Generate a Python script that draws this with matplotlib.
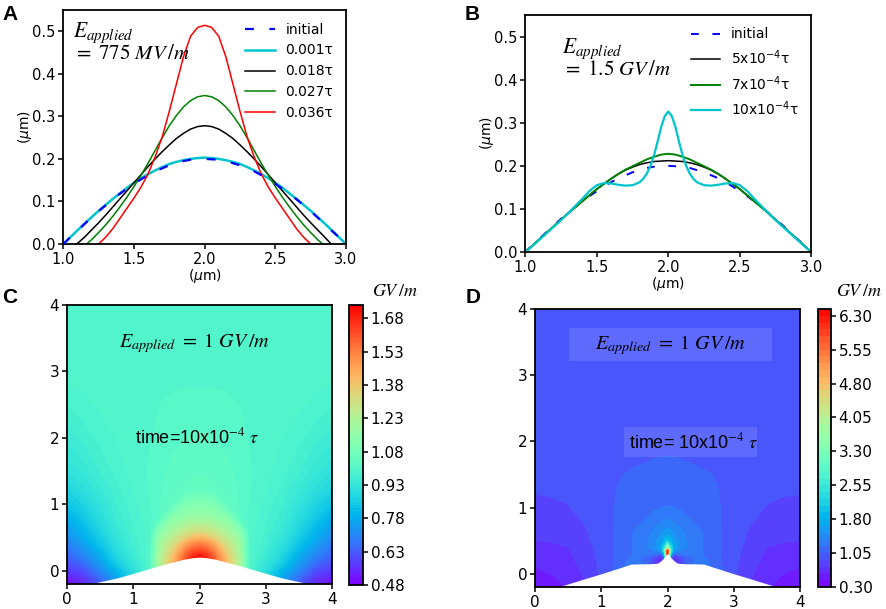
import numpy as np
import matplotlib
matplotlib.use('Agg')
import matplotlib.pyplot as plt
from matplotlib.patches import Rectangle

plt.rcParams['font.family'] = 'DejaVu Sans'
plt.rcParams['axes.linewidth'] = 1.3
plt.rcParams['xtick.major.width'] = 1.1
plt.rcParams['ytick.major.width'] = 1.1

# ---------- panel A / B profiles (um) ----------
x_grid = [1.0, 1.05, 1.1, 1.15, 1.2, 1.25, 1.3, 1.35, 1.4, 1.45, 1.5, 1.55, 1.6, 1.65, 1.7,
          1.75, 1.8, 1.85, 1.9, 1.95, 2.0, 2.05, 2.1, 2.15, 2.2, 2.25, 2.3, 2.35, 2.4, 2.45,
          2.5, 2.55, 2.6, 2.65, 2.7, 2.75, 2.8, 2.85, 2.9, 2.95, 3.0]
initial = [0.0, 0.016, 0.031, 0.047, 0.062, 0.077, 0.091, 0.105, 0.118, 0.13, 0.141, 0.152,
           0.162, 0.171, 0.178, 0.185, 0.19, 0.195, 0.198, 0.199, 0.2, 0.199, 0.198, 0.195,
           0.19, 0.185, 0.178, 0.171, 0.162, 0.152, 0.141, 0.13, 0.118, 0.105, 0.091, 0.077,
           0.062, 0.047, 0.031, 0.016, 0.0]

a_001 = [0.0, 0.016, 0.032, 0.048, 0.063, 0.078, 0.092, 0.106, 0.119, 0.132, 0.144, 0.155,
         0.164, 0.173, 0.181, 0.188, 0.193, 0.197, 0.2, 0.202, 0.203, 0.202, 0.2, 0.197,
         0.193, 0.188, 0.181, 0.173, 0.164, 0.155, 0.144, 0.132, 0.119, 0.106, 0.092, 0.078,
         0.063, 0.048, 0.032, 0.016, 0.0]
x_a_018 = [1.095, 1.15, 1.2, 1.25, 1.3, 1.35, 1.4, 1.45, 1.5, 1.55, 1.6, 1.65, 1.7, 1.75, 1.8,
           1.85, 1.9, 1.95, 2.0, 2.05, 2.1, 2.15, 2.2, 2.25, 2.3, 2.35, 2.4, 2.45, 2.5, 2.55,
           2.6, 2.65, 2.7, 2.75, 2.8, 2.85, 2.895]
a_018 = [0.0, 0.016, 0.033, 0.05, 0.068, 0.087, 0.106, 0.125, 0.144, 0.163, 0.182, 0.2, 0.217,
         0.233, 0.248, 0.26, 0.27, 0.276, 0.278, 0.276, 0.27, 0.26, 0.248, 0.233, 0.217, 0.2,
         0.182, 0.163, 0.144, 0.125, 0.106, 0.087, 0.068, 0.05, 0.033, 0.016, 0.0]
x_a_027 = [1.165, 1.2, 1.25, 1.3, 1.35, 1.4, 1.45, 1.5, 1.55, 1.6, 1.65, 1.7, 1.75, 1.8, 1.85,
           1.9, 1.95, 2.0, 2.05, 2.1, 2.15, 2.2, 2.25, 2.3, 2.35, 2.4, 2.45, 2.5, 2.55, 2.6,
           2.65, 2.7, 2.75, 2.8, 2.835]
a_027 = [0.0, 0.01, 0.027, 0.045, 0.065, 0.087, 0.11, 0.135, 0.162, 0.19, 0.22, 0.25, 0.278,
         0.302, 0.322, 0.337, 0.346, 0.349, 0.346, 0.337, 0.322, 0.302, 0.278, 0.25, 0.22,
         0.19, 0.162, 0.135, 0.11, 0.087, 0.065, 0.045, 0.027, 0.01, 0.0]
x_a_036 = [1.25, 1.3, 1.35, 1.4, 1.45, 1.5, 1.55, 1.6, 1.65, 1.7, 1.75, 1.8, 1.85, 1.9, 1.95,
           2.0, 2.05, 2.1, 2.15, 2.2, 2.25, 2.3, 2.35, 2.4, 2.45, 2.5, 2.55, 2.6, 2.65, 2.7, 2.75]
a_036 = [0.0, 0.016, 0.036, 0.06, 0.084, 0.108, 0.134, 0.165, 0.205, 0.252, 0.312, 0.376,
         0.44, 0.488, 0.509, 0.514, 0.509, 0.488, 0.44, 0.376, 0.312, 0.252, 0.205, 0.165,
         0.134, 0.108, 0.084, 0.06, 0.036, 0.016, 0.0]

b_5 = [0.0, 0.015, 0.03, 0.045, 0.06, 0.075, 0.09, 0.104, 0.118, 0.132, 0.146, 0.158, 0.17,
       0.181, 0.19, 0.197, 0.203, 0.207, 0.21, 0.211, 0.212, 0.211, 0.21, 0.207, 0.203, 0.197,
       0.19, 0.181, 0.17, 0.158, 0.146, 0.132, 0.118, 0.104, 0.09, 0.075, 0.06, 0.045, 0.03,
       0.015, 0.0]
b_7 = [0.0, 0.015, 0.03, 0.045, 0.06, 0.075, 0.09, 0.104, 0.118, 0.132, 0.146, 0.158, 0.17,
       0.181, 0.191, 0.199, 0.207, 0.215, 0.221, 0.226, 0.228, 0.226, 0.221, 0.215, 0.207,
       0.199, 0.191, 0.181, 0.17, 0.158, 0.146, 0.132, 0.118, 0.104, 0.09, 0.075, 0.06, 0.045,
       0.03, 0.015, 0.0]
x_b_10 = [1.0, 1.05, 1.1, 1.15, 1.2, 1.25, 1.3, 1.35, 1.4, 1.45, 1.5, 1.55, 1.6, 1.65, 1.7, 1.75,
          1.8, 1.825, 1.85, 1.875, 1.9, 1.925, 1.95, 1.975, 2.0, 2.025, 2.05, 2.075, 2.1, 2.125,
          2.15, 2.175, 2.2, 2.25, 2.3, 2.35, 2.4, 2.45, 2.5, 2.55, 2.6, 2.65, 2.7, 2.75, 2.8,
          2.85, 2.9, 2.95, 3.0]
b_10 = [0.0, 0.014, 0.029, 0.044, 0.059, 0.074, 0.09, 0.107, 0.124, 0.142, 0.155, 0.16, 0.159,
        0.156, 0.154, 0.155, 0.162, 0.17, 0.182, 0.2, 0.224, 0.256, 0.29, 0.315, 0.326, 0.315,
        0.29, 0.256, 0.224, 0.2, 0.182, 0.17, 0.162, 0.155, 0.154, 0.156, 0.159, 0.16, 0.155,
        0.142, 0.124, 0.107, 0.09, 0.074, 0.059, 0.044, 0.029, 0.014, 0.0]

# ---------- panel C field (GV/m) ----------
xs_c = [0, 0.25, 0.5, 0.75, 1.0, 1.25, 1.4, 1.6, 1.8, 1.9, 2.0, 2.1, 2.2, 2.4, 2.6, 2.75, 3.0,
        3.25, 3.5, 3.75, 4.0]
ys_c = [-0.2, -0.1, 0.0, 0.1, 0.2, 0.25, 0.3, 0.4, 0.5, 0.6, 0.8, 1.0, 1.2, 1.5, 2.0, 2.5, 3.0, 4.0]
field_c = [
    [0.49, 0.54, 0.62, 0.74, 0.88, 0.995, 1.2, 1.42, 1.62, 1.68, 1.73, 1.68, 1.62, 1.42, 1.2, 0.995, 0.88, 0.74, 0.62, 0.54, 0.49],
    [0.53, 0.57, 0.66, 0.76, 0.88, 0.995, 1.2, 1.42, 1.62, 1.68, 1.73, 1.68, 1.62, 1.42, 1.2, 0.995, 0.88, 0.76, 0.66, 0.57, 0.53],
    [0.57, 0.61, 0.7, 0.8, 0.9, 0.995, 1.2, 1.42, 1.62, 1.68, 1.73, 1.68, 1.62, 1.42, 1.2, 0.995, 0.9, 0.8, 0.7, 0.61, 0.57],
    [0.6, 0.65, 0.74, 0.84, 0.925, 0.995, 1.22, 1.42, 1.62, 1.68, 1.73, 1.68, 1.62, 1.42, 1.22, 0.995, 0.925, 0.84, 0.74, 0.65, 0.6],
    [0.63, 0.69, 0.77, 0.87, 0.945, 1.0, 1.22, 1.4, 1.6, 1.68, 1.73, 1.68, 1.6, 1.4, 1.22, 1.0, 0.945, 0.87, 0.77, 0.69, 0.63],
    [0.645, 0.705, 0.785, 0.88, 0.95, 1.0, 1.21, 1.38, 1.57, 1.64, 1.67, 1.64, 1.57, 1.38, 1.21, 1.0, 0.95, 0.88, 0.785, 0.705, 0.645],
    [0.66, 0.72, 0.8, 0.89, 0.955, 1.0, 1.2, 1.35, 1.54, 1.6, 1.62, 1.6, 1.54, 1.35, 1.2, 1.0, 0.955, 0.89, 0.8, 0.72, 0.66],
    [0.685, 0.75, 0.83, 0.91, 0.962, 1.0, 1.19, 1.31, 1.46, 1.51, 1.53, 1.51, 1.46, 1.31, 1.19, 1.0, 0.962, 0.91, 0.83, 0.75, 0.685],
    [0.71, 0.78, 0.85, 0.925, 0.968, 1.0, 1.17, 1.26, 1.35, 1.4, 1.41, 1.4, 1.35, 1.26, 1.17, 1.0, 0.968, 0.925, 0.85, 0.78, 0.71],
    [0.735, 0.8, 0.87, 0.935, 0.972, 1.0, 1.13, 1.21, 1.28, 1.3, 1.31, 1.3, 1.28, 1.21, 1.13, 1.0, 0.972, 0.935, 0.87, 0.8, 0.735],
    [0.78, 0.84, 0.9, 0.95, 0.978, 1.0, 1.02, 1.14, 1.165, 1.172, 1.175, 1.172, 1.165, 1.14, 1.02, 1.0, 0.978, 0.95, 0.9, 0.84, 0.78],
    [0.83, 0.87, 0.92, 0.96, 0.984, 1.003, 1.018, 1.04, 1.11, 1.12, 1.125, 1.12, 1.11, 1.04, 1.018, 1.003, 0.984, 0.96, 0.92, 0.87, 0.83],
    [0.87, 0.905, 0.94, 0.968, 0.99, 1.006, 1.018, 1.03, 1.04, 1.045, 1.045, 1.045, 1.04, 1.03, 1.018, 1.006, 0.99, 0.968, 0.94, 0.905, 0.87],
    [0.915, 0.935, 0.96, 0.98, 0.995, 1.007, 1.015, 1.024, 1.03, 1.032, 1.033, 1.032, 1.03, 1.024, 1.015, 1.007, 0.995, 0.98, 0.96, 0.935, 0.915],
    [0.95, 0.965, 0.98, 0.99, 0.998, 1.004, 1.01, 1.016, 1.02, 1.022, 1.022, 1.022, 1.02, 1.016, 1.01, 1.004, 0.998, 0.99, 0.98, 0.965, 0.95],
    [0.975, 0.985, 0.993, 0.998, 1.0, 1.003, 1.005, 1.008, 1.01, 1.01, 1.01, 1.01, 1.01, 1.008, 1.005, 1.003, 1.0, 0.998, 0.993, 0.985, 0.975],
    [0.995, 0.997, 1.0, 1.0, 1.0, 1.0, 1.0, 1.0, 1.0, 1.0, 1.0, 1.0, 1.0, 1.0, 1.0, 1.0, 1.0, 1.0, 1.0, 0.997, 0.995],
    [1.0, 1.0, 1.0, 1.0, 1.0, 1.0, 1.0, 1.0, 1.0, 1.0, 1.0, 1.0, 1.0, 1.0, 1.0, 1.0, 1.0, 1.0, 1.0, 1.0, 1.0],
]
surf_cx = [0.35, 0.5, 0.75, 1.0, 1.25, 1.5, 1.75, 1.9, 2.0, 2.1, 2.25, 2.5, 2.75, 3.0, 3.25, 3.5, 3.65]
surf_cy = [-0.2, -0.165, -0.11, -0.04, 0.035, 0.105, 0.17, 0.197, 0.205, 0.197, 0.17, 0.105, 0.035,
           -0.04, -0.11, -0.165, -0.2]
ticks_c = [0.48, 0.63, 0.78, 0.93, 1.08, 1.23, 1.38, 1.53, 1.68]

# ---------- panel D field (GV/m) ----------
xs_d = [0, 0.25, 0.5, 0.75, 1.0, 1.25, 1.5, 1.7, 1.8, 1.9, 1.95, 2.0, 2.05, 2.1, 2.2, 2.3, 2.5,
        2.75, 3.0, 3.25, 3.5, 3.75, 4.0]
ys_d = [-0.2, -0.1, 0.0, 0.1, 0.2, 0.25, 0.3, 0.35, 0.4, 0.5, 0.6, 0.8, 1.0, 1.2, 1.5, 1.65, 1.8,
        2.2, 3.0, 4.0]
field_d = [
    [0.5, 0.53, 0.62, 0.75, 0.93, 1.1, 1.35, 1.1, 0.85, 0.6, 1.0, 6.4, 1.0, 0.6, 0.85, 1.1, 1.35, 1.1, 0.93, 0.75, 0.62, 0.53, 0.5],
    [0.55, 0.57, 0.64, 0.75, 0.93, 1.1, 1.35, 1.1, 0.85, 0.6, 1.0, 6.4, 1.0, 0.6, 0.85, 1.1, 1.35, 1.1, 0.93, 0.75, 0.64, 0.57, 0.55],
    [0.58, 0.6, 0.67, 0.77, 0.93, 1.1, 1.35, 1.1, 0.85, 0.6, 1.0, 6.4, 1.0, 0.6, 0.85, 1.1, 1.35, 1.1, 0.93, 0.77, 0.67, 0.6, 0.58],
    [0.6, 0.63, 0.69, 0.79, 0.93, 1.1, 1.35, 1.1, 0.85, 0.6, 1.0, 6.4, 1.0, 0.6, 0.85, 1.1, 1.35, 1.1, 0.93, 0.79, 0.69, 0.63, 0.6],
    [0.64, 0.66, 0.71, 0.81, 0.94, 1.09, 1.3, 1.08, 0.8, 0.6, 1.0, 6.4, 1.0, 0.6, 0.8, 1.08, 1.3, 1.09, 0.94, 0.81, 0.71, 0.66, 0.64],
    [0.655, 0.675, 0.72, 0.82, 0.94, 1.08, 1.24, 1.15, 0.92, 0.68, 1.05, 6.4, 1.05, 0.68, 0.92, 1.15, 1.24, 1.08, 0.94, 0.82, 0.72, 0.675, 0.655],
    [0.67, 0.69, 0.73, 0.83, 0.95, 1.08, 1.21, 1.24, 1.22, 1.1, 1.9, 6.4, 1.9, 1.1, 1.22, 1.24, 1.21, 1.08, 0.95, 0.83, 0.73, 0.69, 0.67],
    [0.69, 0.705, 0.74, 0.84, 0.95, 1.08, 1.22, 1.3, 1.36, 1.6, 2.6, 6.2, 2.6, 1.6, 1.36, 1.3, 1.22, 1.08, 0.95, 0.84, 0.74, 0.705, 0.69],
    [0.71, 0.72, 0.75, 0.85, 0.95, 1.08, 1.22, 1.33, 1.43, 1.7, 2.3, 3.6, 2.3, 1.7, 1.43, 1.33, 1.22, 1.08, 0.95, 0.85, 0.75, 0.72, 0.71],
    [0.75, 0.76, 0.77, 0.87, 0.96, 1.08, 1.22, 1.33, 1.43, 1.6, 1.8, 2.0, 1.8, 1.6, 1.43, 1.33, 1.22, 1.08, 0.96, 0.87, 0.77, 0.76, 0.75],
    [0.77, 0.78, 0.8, 0.88, 0.96, 1.08, 1.22, 1.31, 1.4, 1.5, 1.56, 1.6, 1.56, 1.5, 1.4, 1.31, 1.22, 1.08, 0.96, 0.88, 0.8, 0.78, 0.77],
    [0.82, 0.835, 0.86, 0.91, 0.97, 1.07, 1.15, 1.22, 1.28, 1.33, 1.36, 1.37, 1.36, 1.33, 1.28, 1.22, 1.15, 1.07, 0.97, 0.91, 0.86, 0.835, 0.82],
    [0.86, 0.875, 0.895, 0.93, 0.97, 1.07, 1.11, 1.15, 1.18, 1.2, 1.205, 1.21, 1.205, 1.2, 1.18, 1.15, 1.11, 1.07, 0.97, 0.93, 0.895, 0.875, 0.86],
    [0.9, 0.905, 0.915, 0.94, 0.97, 1.06, 1.09, 1.11, 1.12, 1.13, 1.14, 1.14, 1.14, 1.13, 1.12, 1.11, 1.09, 1.06, 0.97, 0.94, 0.915, 0.905, 0.9],
    [0.93, 0.93, 0.935, 0.95, 0.97, 1.04, 1.07, 1.075, 1.08, 1.085, 1.09, 1.09, 1.09, 1.085, 1.08, 1.075, 1.07, 1.04, 0.97, 0.95, 0.935, 0.93, 0.93],
    [0.94, 0.94, 0.945, 0.955, 0.97, 1.0, 1.04, 1.058, 1.064, 1.068, 1.07, 1.07, 1.07, 1.068, 1.064, 1.058, 1.04, 1.0, 0.97, 0.955, 0.945, 0.94, 0.94],
    [0.95, 0.95, 0.95, 0.96, 0.97, 0.99, 1.01, 1.03, 1.04, 1.045, 1.045, 1.045, 1.045, 1.045, 1.04, 1.03, 1.01, 0.99, 0.97, 0.96, 0.95, 0.95, 0.95],
    [0.96, 0.96, 0.96, 0.96, 0.97, 0.98, 0.99, 1.0, 1.0, 1.01, 1.01, 1.01, 1.01, 1.01, 1.0, 1.0, 0.99, 0.98, 0.97, 0.96, 0.96, 0.96, 0.96],
    [0.97, 0.97, 0.97, 0.97, 0.97, 0.98, 0.98, 0.98, 0.98, 0.98, 0.98, 0.98, 0.98, 0.98, 0.98, 0.98, 0.98, 0.98, 0.97, 0.97, 0.97, 0.97, 0.97],
    [0.97, 0.97, 0.97, 0.97, 0.97, 0.97, 0.97, 0.97, 0.97, 0.97, 0.97, 0.97, 0.97, 0.97, 0.97, 0.97, 0.97, 0.97, 0.97, 0.97, 0.97, 0.97, 0.97],
]
surf_dx = [0.35, 0.75, 1.0, 1.25, 1.45, 1.6, 1.75, 1.85, 1.9, 1.95, 1.98, 2.0, 2.02, 2.05, 2.1,
           2.15, 2.25, 2.4, 2.55, 2.75, 3.0, 3.25, 3.65]
surf_dy = [-0.2, -0.075, 0.0, 0.08, 0.146, 0.15, 0.152, 0.16, 0.195, 0.245, 0.285, 0.31, 0.285,
           0.245, 0.195, 0.16, 0.152, 0.15, 0.146, 0.08, 0.0, -0.075, -0.2]
ticks_d = [0.30, 1.05, 1.80, 2.55, 3.30, 4.05, 4.80, 5.55, 6.30]

W, H = 886, 609


def box(l, t, r, b):
    return [l / W, 1 - b / H, (r - l) / W, (b - t) / H]


fig = plt.figure(figsize=(8.86, 6.09), dpi=100)

# ---------------- A ----------------
axA = fig.add_axes(box(63.3, 10, 346, 244))
axA.plot(x_grid, a_001, color='#00c4cc', lw=1.8, label='0.001τ', zorder=2)
axA.plot(x_a_018, a_018, color='k', lw=1.1, label='0.018τ')
axA.plot(x_a_027, a_027, color='g', lw=1.1, label='0.027τ')
axA.plot(x_a_036, a_036, color='r', lw=1.1, label='0.036τ')
axA.plot(x_grid, initial, color='b', lw=1.6, dashes=(4, 7), label='initial', zorder=3)
h, l = axA.get_legend_handles_labels()
order = [4, 0, 1, 2, 3]
axA.legend([h[i] for i in order], [l[i] for i in order], loc='upper right', frameon=False,
           fontsize=10, handlelength=2.1)
axA.set_xlim(1.0, 3.0)
axA.set_ylim(0, 0.55)
axA.set_xticks([1.0, 1.5, 2.0, 2.5, 3.0])
axA.set_yticks([0.0, 0.1, 0.2, 0.3, 0.4, 0.5])
axA.tick_params(labelsize=10.5, pad=2)
axA.set_xlabel('($\\mu$m)', fontsize=10, labelpad=0)
axA.set_ylabel('($\\mu$m)', fontsize=10, labelpad=-1)
axA.text(0.034, 0.886, '$E_{applied}$', transform=axA.transAxes, fontsize=15.5,
         math_fontfamily='stix')
axA.text(0.034, 0.789, '$=\\ 775\\ MV\\,/m$', transform=axA.transAxes, fontsize=15,
         math_fontfamily='stix')

# ---------------- B ----------------
axB = fig.add_axes(box(525.3, 15, 811.3, 252))
axB.plot(x_grid, b_5, color='k', lw=1.1, label='5x10$^{-4}$τ')
axB.plot(x_grid, b_7, color='g', lw=1.4, label='7x10$^{-4}$τ')
axB.plot(x_b_10, b_10, color='#00c4cc', lw=1.6, label='10x10$^{-4}$τ')
axB.plot(x_grid, initial, color='b', lw=1.4, dashes=(4, 7), label='initial', zorder=1.5)
h, l = axB.get_legend_handles_labels()
order = [3, 0, 1, 2]
axB.legend([h[i] for i in order], [l[i] for i in order], loc='upper right', frameon=False,
           fontsize=10, handlelength=2.1)
axB.set_xlim(1.0, 3.0)
axB.set_ylim(0, 0.55)
axB.set_xticks([1.0, 1.5, 2.0, 2.5, 3.0])
axB.set_yticks([0.0, 0.1, 0.2, 0.3, 0.4, 0.5])
axB.tick_params(labelsize=10.5, pad=2)
axB.set_xlabel('($\\mu$m)', fontsize=10, labelpad=0)
axB.set_ylabel('($\\mu$m)', fontsize=10, labelpad=-1)
axB.text(0.128, 0.838, '$E_{applied}$', transform=axB.transAxes, fontsize=15.5,
         math_fontfamily='stix')
axB.text(0.128, 0.747, '$=\\ 1.5\\ GV\\,/m$', transform=axB.transAxes, fontsize=15,
         math_fontfamily='stix')

# ---------------- C ----------------
axC = fig.add_axes(box(67, 305, 332, 584))
levels_c = np.linspace(0.48, 1.74, 85)
cfC = axC.contourf(xs_c, ys_c, np.array(field_c), levels=levels_c, cmap='rainbow')
axC.fill_between(surf_cx, -0.3, surf_cy, color='white', lw=0, zorder=3)
axC.set_xlim(0, 4)
axC.set_ylim(-0.2, 4)
axC.set_xticks([0, 1, 2, 3, 4])
axC.set_yticks([0, 1, 2, 3, 4])
axC.tick_params(labelsize=11, pad=2)
axC.text(1.92, 3.43, '$E_{applied}\\ =\\ 1\\ GV\\,/m$', ha='center', va='center',
         fontsize=14.5, math_fontfamily='stix', zorder=5)
axC.text(1.96, 2.0, 'time=10x10$^{-4}$ $\\tau$', ha='center', va='center', fontsize=13,
         family='Liberation Sans', math_fontfamily='stix', zorder=5)
for s in axC.spines.values():
    s.set_zorder(6)
caxC = fig.add_axes(box(349, 305, 363, 585))
cbC = fig.colorbar(cfC, cax=caxC, ticks=ticks_c)
cbC.ax.set_yticklabels(['%.2f' % t for t in ticks_c])
caxC.tick_params(labelsize=11, pad=2)
cbC.outline.set_linewidth(1.3)
fig.text(372 / W, 1 - 291 / H, '$GV\\,/m$', fontsize=13, va='center', math_fontfamily='stix')

# ---------------- D ----------------
axD = fig.add_axes(box(535, 309, 800, 587))
levels_d = np.linspace(0.30, 6.45, 42)
cfD = axD.contourf(xs_d, ys_d, np.array(field_d), levels=levels_d, cmap='rainbow')
axD.fill_between(surf_dx, -0.3, surf_dy, color='white', lw=0, zorder=3)
axD.set_xlim(0, 4)
axD.set_ylim(-0.2, 4)
axD.set_xticks([0, 1, 2, 3, 4])
axD.set_yticks([0, 1, 2, 3, 4])
axD.tick_params(labelsize=11, pad=2)
axD.add_patch(Rectangle((0.51, 3.21), 3.06, 0.5, facecolor='white', alpha=0.12, lw=0, zorder=4))
axD.add_patch(Rectangle((1.35, 1.77), 2.0, 0.45, facecolor='white', alpha=0.12, lw=0, zorder=4))
axD.text(2.04, 3.46, '$E_{applied}\\ =\\ 1\\ GV\\,/m$', ha='center', va='center',
         fontsize=14.5, math_fontfamily='stix', zorder=5)
axD.text(2.4, 1.98, 'time= 10x10$^{-4}$ $\\tau$', ha='center', va='center', fontsize=13,
         family='Liberation Sans', math_fontfamily='stix', zorder=5)
for s in axD.spines.values():
    s.set_zorder(6)
caxD = fig.add_axes(box(818, 309, 831, 587))
cbD = fig.colorbar(cfD, cax=caxD, ticks=ticks_d)
cbD.ax.set_yticklabels(['%.2f' % t for t in ticks_d])
caxD.tick_params(labelsize=11, pad=2)
cbD.outline.set_linewidth(1.3)
fig.text(836 / W, 1 - 291 / H, '$GV\\,/m$', fontsize=13, va='center', math_fontfamily='stix')

# panel letters
for lab, px, py in [('A', 2, 5), ('B', 465, 5), ('C', 2, 288), ('D', 466, 288)]:
    fig.text(px / W, 1 - py / H, lab, fontsize=15, fontweight='bold', va='top',
             family='Liberation Sans')

fig.savefig('out.png', dpi=100)
